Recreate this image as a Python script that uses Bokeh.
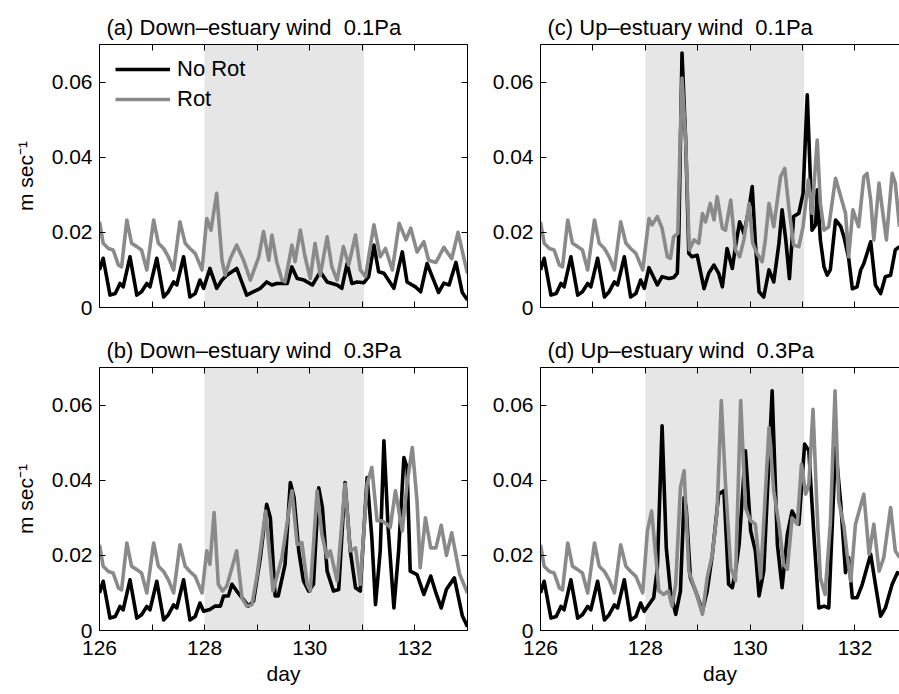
from bokeh.plotting import figure
from bokeh.layouts import column, row
from bokeh.models import (BoxAnnotation, FixedTicker, LinearAxis, Legend,
                          LegendItem, Range1d)
from bokeh.embed import file_html
from bokeh.resources import INLINE

FONT = "Liberation Sans"
BLACK = "#000000"
GRAY = "#8a8a8a"
SHADE = "#e6e6e6"

# ---------------- data ----------------
x_ticks = [126, 128, 130, 132]
x_minor_ticks = [127, 129, 131, 133]
y_ticks = [0, 0.02, 0.04, 0.06]
shade_start = 128.0
shade_end = 131.03

titles = ["(a) Down\u2013estuary wind\u00a0\u00a00.1Pa", "(c) Up\u2013estuary wind\u00a0\u00a00.1Pa",
          "(b) Down\u2013estuary wind\u00a0\u00a00.3Pa", "(d) Up\u2013estuary wind\u00a0\u00a00.3Pa"]
series_names = ["No Rot", "Rot"]

# common pre-wind period (days 126-128)
pre_t_norot = [126.0, 126.07, 126.2, 126.3, 126.39, 126.45, 126.58, 126.71, 126.8, 126.9, 126.96,
               127.09, 127.22, 127.31, 127.41, 127.47, 127.6, 127.72, 127.82, 127.91, 127.98]
pre_v_norot = [.0100, .0131, .0033, .0037, .0064, .0055, .0135, .0033, .0042, .0064, .0055,
               .0131, .0028, .0042, .0068, .0060, .0135, .0028, .0037, .0073, .0051]
pre_t_rot = [126.0, 126.07, 126.17, 126.26, 126.36, 126.42, 126.52, 126.61, 126.71, 126.8, 126.9,
             127.03, 127.12, 127.22, 127.31, 127.41, 127.53, 127.63, 127.72, 127.82, 127.95]
pre_v_rot = [.0228, .0171, .0157, .0153, .0113, .0108, .0233, .0171, .0162, .0153, .0100,
             .0233, .0171, .0157, .0135, .0100, .0228, .0171, .0157, .0144, .0100]

# (a) down-estuary 0.1 Pa
a_t_norot = [128.10, 128.23, 128.33, 128.42, 128.61, 128.80, 128.93, 129.06, 129.18, 129.28,
             129.37, 129.57, 129.66, 129.76, 129.89, 130.05, 130.20, 130.33, 130.52, 130.61,
             130.71, 130.80, 130.90, 131.03, 131.12, 131.22, 131.31, 131.41, 131.60, 131.76,
             131.85, 132.01, 132.11, 132.23, 132.35, 132.45, 132.55, 132.65, 132.78, 132.90, 133.0]
a_v_norot = [.0104, .0051, .0073, .0086, .0104, .0033, .0042, .0051, .0068, .0060,
             .0064, .0064, .0108, .0077, .0073, .0060, .0095, .0068, .0060, .0051,
             .0117, .0064, .0068, .0066, .0082, .0166, .0095, .0091, .0051, .0148,
             .0068, .0055, .0042, .0117, .0075, .0040, .0065, .0060, .0120, .0040, .0020]
a_t_rot = [128.04, 128.12, 128.23, 128.33, 128.39, 128.49, 128.61, 128.74, 128.87, 129.03,
           129.12, 129.22, 129.28, 129.37, 129.47, 129.53, 129.66, 129.72, 129.82, 129.91,
           130.01, 130.10, 130.20, 130.33, 130.42, 130.52, 130.64, 130.74, 130.87, 130.96,
           131.06, 131.12, 131.22, 131.34, 131.44, 131.57, 131.70, 131.83, 131.92, 132.04,
           132.17, 132.26, 132.40, 132.55, 132.70, 132.82, 132.95, 133.0]
a_v_rot = [.0237, .0206, .0304, .0126, .0086, .0131, .0166, .0126, .0073, .0135,
           .0202, .0126, .0193, .0122, .0073, .0068, .0166, .0122, .0206, .0135,
           .0077, .0171, .0086, .0188, .0108, .0073, .0162, .0113, .0193, .0100,
           .0082, .0135, .0220, .0135, .0157, .0100, .0224, .0180, .0211, .0148,
           .0175, .0126, .0120, .0160, .0130, .0200, .0120, .0090]

# (c) up-estuary 0.1 Pa
c_t_norot = [128.07, 128.23, 128.32, 128.45, 128.54, 128.61, 128.64, 128.70, 128.77, 128.83,
             128.89, 128.99, 129.12, 129.21, 129.31, 129.40, 129.47, 129.56, 129.66, 129.72,
             129.80, 129.88, 129.98, 130.04, 130.10, 130.17, 130.26, 130.36, 130.45, 130.55,
             130.61, 130.68, 130.75, 130.83, 130.93, 131.01, 131.09, 131.15, 131.18, 131.25,
             131.28, 131.34, 131.41, 131.47, 131.53, 131.63, 131.73, 131.79, 131.88, 131.95,
             132.04, 132.11, 132.17, 132.30, 132.39, 132.49, 132.58, 132.68, 132.77, 132.85]
c_v_norot = [.0106, .0060, .0082, .0077, .0080, .0091, .0197, .0677, .0446, .0144,
             .0135, .0139, .0050, .0091, .0113, .0091, .0055, .0157, .0104, .0162,
             .0228, .0197, .0264, .0322, .0171, .0042, .0028, .0100, .0068, .0171,
             .0260, .0180, .0077, .0242, .0251, .0304, .0566, .0340, .0206, .0220,
             .0313, .0180, .0108, .0086, .0100, .0233, .0215, .0188, .0131, .0050,
             .0055, .0100, .0117, .0175, .0060, .0037, .0082, .0086, .0153, .0162]
c_t_rot = [128.07, 128.13, 128.23, 128.32, 128.42, 128.48, 128.54, 128.62, 128.66, 128.70,
           128.77, 128.84, 128.93, 129.02, 129.09, 129.15, 129.24, 129.31, 129.37, 129.47,
           129.53, 129.63, 129.72, 129.80, 129.88, 129.98, 130.05, 130.13, 130.23, 130.29,
           130.36, 130.45, 130.58, 130.66, 130.74, 130.83, 130.93, 131.01, 131.11, 131.18,
           131.28, 131.34, 131.41, 131.50, 131.63, 131.73, 131.82, 131.88, 131.96, 132.07,
           132.17, 132.23, 132.30, 132.36, 132.46, 132.52, 132.60, 132.71, 132.77, 132.85]
c_v_rot = [.0237, .0220, .0242, .0211, .0135, .0131, .0188, .0197, .0420, .0611,
           .0446, .0153, .0180, .0171, .0250, .0228, .0277, .0233, .0295, .0211,
           .0206, .0286, .0153, .0135, .0180, .0277, .0171, .0144, .0122, .0180,
           .0277, .0215, .0348, .0370, .0264, .0166, .0162, .0215, .0340, .0251,
           .0446, .0277, .0206, .0215, .0344, .0295, .0251, .0135, .0260, .0215,
           .0348, .0357, .0286, .0180, .0331, .0264, .0180, .0357, .0331, .0215]

# (b) down-estuary 0.3 Pa
b_t_norot = [128.10, 128.20, 128.30, 128.36, 128.45, 128.52, 128.61, 128.74, 128.83, 128.93,
             129.06, 129.18, 129.25, 129.34, 129.40, 129.53, 129.63, 129.70, 129.79, 129.88,
             129.98, 130.07, 130.17, 130.24, 130.33, 130.45, 130.55, 130.67, 130.77, 130.87,
             130.96, 131.09, 131.18, 131.25, 131.34, 131.41, 131.49, 131.60, 131.69, 131.79,
             131.85, 131.91, 132.04, 132.17, 132.30, 132.40, 132.50, 132.60, 132.75, 132.90, 133.0]
b_v_norot = [.0056, .0065, .0065, .0092, .0092, .0123, .0105, .0082, .0065, .0078,
             .0194, .0336, .0300, .0092, .0092, .0176, .0394, .0354, .0212, .0132,
             .0105, .0123, .0380, .0327, .0158, .0105, .0109, .0394, .0212, .0114,
             .0105, .0407, .0247, .0069, .0212, .0505, .0274, .0060, .0212, .0460,
             .0434, .0158, .0149, .0096, .0145, .0100, .0060, .0110, .0140, .0040, .0010]
b_t_rot = [128.04, 128.10, 128.18, 128.26, 128.34, 128.42, 128.52, 128.61, 128.71, 128.80,
           128.90, 129.00, 129.16, 129.30, 129.47, 129.66, 129.76, 129.85, 129.95, 130.01,
           130.14, 130.23, 130.33, 130.39, 130.52, 130.67, 130.77, 130.87, 130.96, 131.09,
           131.18, 131.28, 131.37, 131.47, 131.53, 131.63, 131.76, 131.85, 131.95, 132.04,
           132.10, 132.20, 132.30, 132.40, 132.50, 132.60, 132.70, 132.85, 133.0]
b_v_rot = [.0212, .0176, .0314, .0123, .0105, .0118, .0167, .0212, .0087, .0065,
           .0069, .0149, .0318, .0105, .0194, .0372, .0229, .0234, .0123, .0105,
           .0372, .0256, .0194, .0212, .0132, .0390, .0212, .0220, .0123, .0390,
           .0434, .0292, .0292, .0283, .0274, .0372, .0265, .0390, .0487, .0345,
           .0167, .0300, .0220, .0220, .0280, .0200, .0260, .0150, .0100]

# (d) up-estuary 0.3 Pa
d_t_norot = [128.07, 128.16, 128.23, 128.32, 128.40, 128.48, 128.58, 128.67, 128.74, 128.78,
             128.86, 128.96, 129.09, 129.18, 129.28, 129.40, 129.50, 129.59, 129.66, 129.72,
             129.79, 129.91, 130.01, 130.10, 130.17, 130.26, 130.42, 130.52, 130.61, 130.71,
             130.80, 130.93, 131.04, 131.12, 131.22, 131.31, 131.41, 131.50, 131.63, 131.73,
             131.82, 131.88, 131.95, 132.04, 132.14, 132.30, 132.39, 132.49, 132.58, 132.71,
             132.81, 132.85]
d_v_norot = [.0069, .0087, .0167, .0545, .0220, .0105, .0043, .0105, .0354, .0327,
             .0140, .0105, .0052, .0105, .0203, .0363, .0372, .0123, .0114, .0158,
             .0229, .0478, .0265, .0212, .0092, .0158, .0638, .0229, .0114, .0256,
             .0318, .0283, .0496, .0478, .0247, .0060, .0065, .0060, .0487, .0336,
             .0154, .0194, .0087, .0087, .0123, .0203, .0123, .0038, .0060, .0123,
             .0154, .0150]
d_t_rot = [128.04, 128.12, 128.19, 128.26, 128.35, 128.44, 128.51, 128.58, 128.67, 128.74,
           128.83, 128.96, 129.09, 129.18, 129.28, 129.37, 129.45, 129.53, 129.63, 129.72,
           129.82, 129.91, 130.01, 130.10, 130.20, 130.36, 130.45, 130.55, 130.64, 130.71,
           130.80, 130.90, 130.98, 131.06, 131.12, 131.20, 131.28, 131.34, 131.43, 131.53,
           131.62, 131.69, 131.79, 131.85, 131.92, 132.01, 132.17, 132.27, 132.36, 132.46,
           132.55, 132.68, 132.77, 132.85]
d_v_rot = [.0265, .0318, .0212, .0105, .0096, .0105, .0065, .0123, .0380, .0425,
           .0158, .0105, .0043, .0140, .0203, .0318, .0612, .0389, .0167, .0132,
           .0612, .0327, .0292, .0283, .0140, .0540, .0372, .0283, .0176, .0163,
           .0300, .0283, .0443, .0363, .0389, .0589, .0309, .0140, .0096, .0283,
           .0638, .0345, .0278, .0203, .0132, .0283, .0363, .0203, .0283, .0158,
           .0194, .0327, .0212, .0194]

TICK_PX = "21px"
LINE_W = 3.6


def style_axis(ax, show_labels):
    ax.major_tick_in = 6
    ax.major_tick_out = 0
    ax.minor_tick_in = 6
    ax.minor_tick_out = 0
    ax.axis_line_color = "black"
    ax.axis_line_width = 1
    ax.major_tick_line_color = "black"
    ax.minor_tick_line_color = "black"
    ax.major_label_text_font = FONT
    ax.major_label_text_font_size = TICK_PX
    ax.axis_label_text_font = FONT
    ax.axis_label_text_font_style = "normal"
    ax.axis_label_text_font_size = TICK_PX
    ax.axis_label_text_color = "black"
    if show_labels:
        ax.major_label_text_color = "black"
    else:
        ax.major_label_text_color = None
        ax.major_label_standoff = 0


def make_panel(title, t_nr, v_nr, t_r, v_r, is_left, is_bottom, legend=False):
    x_end = 133 if is_left else 132.85
    p = figure(output_backend="svg", toolbar_location=None,
               frame_width=368 if is_left else 359, frame_height=263,
               x_range=Range1d(126, x_end), y_range=Range1d(0, 0.07),
               min_border_left=99 if is_left else 53,
               min_border_right=20 if is_left else 0,
               min_border_top=36 if is_bottom else 44,
               min_border_bottom=64 if is_bottom else 24,
               x_axis_type=None, y_axis_type=None)
    p.outline_line_color = None
    p.background_fill_color = "white"
    p.border_fill_color = "white"

    p.title.text = title
    p.title.text_font = FONT
    p.title.text_font_size = "22px"
    p.title.text_font_style = "normal"
    p.title.text_color = "black"
    p.title.offset = 7
    p.title.standoff = 9

    p.add_layout(BoxAnnotation(left=shade_start, right=shade_end, fill_color=SHADE,
                               fill_alpha=1.0, line_color=None, level="underlay"))

    xb = LinearAxis(ticker=FixedTicker(ticks=x_ticks, minor_ticks=x_minor_ticks))
    style_axis(xb, is_bottom)
    if is_bottom:
        xb.major_label_standoff = 10
        xb.axis_label = "day"
        xb.axis_label_standoff = 4
    p.add_layout(xb, "below")

    xt = LinearAxis(ticker=FixedTicker(ticks=x_ticks, minor_ticks=x_minor_ticks))
    style_axis(xt, False)
    p.add_layout(xt, "above")

    yl = LinearAxis(ticker=FixedTicker(ticks=y_ticks))
    style_axis(yl, True)
    yl.major_label_overrides = {0: "0"}
    yl.major_label_standoff = 7
    if is_left:
        yl.axis_label = "m sec\u207b\u00b9"
        yl.axis_label_standoff = 12
    p.add_layout(yl, "left")

    if is_left:
        yr = LinearAxis(ticker=FixedTicker(ticks=y_ticks))
        style_axis(yr, False)
        p.add_layout(yr, "right")

    r1 = p.line(pre_t_norot + t_nr, pre_v_norot + v_nr, line_color=BLACK,
                line_width=LINE_W, line_join="round")
    r2 = p.line(pre_t_rot + t_r, pre_v_rot + v_r, line_color=GRAY,
                line_width=LINE_W, line_join="round")

    if legend:
        leg = Legend(items=[LegendItem(label=series_names[0], renderers=[r1]),
                            LegendItem(label=series_names[1], renderers=[r2])],
                     location=(16, 193), margin=0, padding=0, spacing=0,
                     glyph_width=55, glyph_height=30, label_height=30,
                     label_standoff=7, label_text_font=FONT,
                     label_text_font_size="22px", label_text_color="black",
                     border_line_color=None, background_fill_alpha=0)
        p.add_layout(leg, "center")
    return p


pa = make_panel(titles[0], a_t_norot, a_v_norot, a_t_rot, a_v_rot, True, False, legend=True)
pc = make_panel(titles[1], c_t_norot, c_v_norot, c_t_rot, c_v_rot, False, False)
pb = make_panel(titles[2], b_t_norot, b_v_norot, b_t_rot, b_v_rot, True, True)
pd = make_panel(titles[3], d_t_norot, d_v_norot, d_t_rot, d_v_rot, False, True)

layout = column(row(pa, pc), row(pb, pd))

open("out.html", "w").write(file_html(layout, INLINE))
